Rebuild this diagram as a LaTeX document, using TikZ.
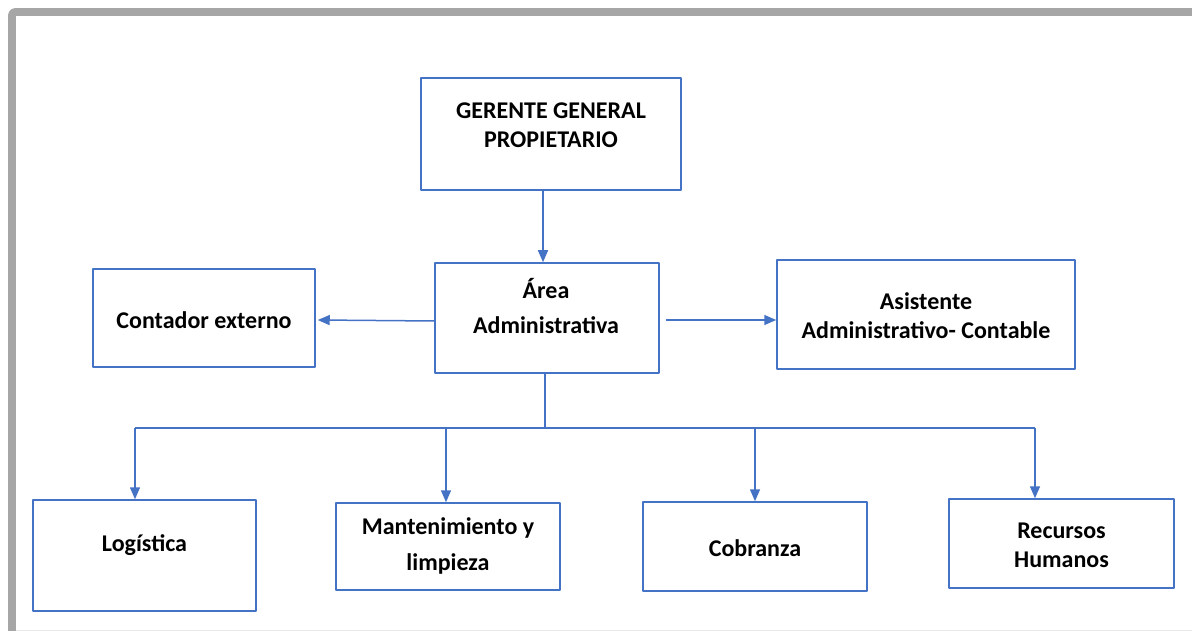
\documentclass[tikz,border=0pt]{standalone}
\usepackage{fontspec}
\setmainfont{Carlito}
\usetikzlibrary{arrows.meta,positioning}
\definecolor{azul}{HTML}{4472C4}
\definecolor{marco}{HTML}{A6A6A6}
\begin{document}
\begin{tikzpicture}[x=1pt, y=-1pt, line join=round, >={Triangle[length=12pt,width=10pt]},
	caja/.style={draw=azul, line width=1.5pt, rectangle, inner sep=0pt},
	rotulo/.style={align=center, font=\bfseries\fontsize{24}{29}\selectfont},
	flecha/.style={->, draw=azul, line width=1.5pt, azul}]
	\useasboundingbox (0,0) rectangle (1192,631);
	% marco
	\draw[marco, line width=7.7pt, rounded corners=3pt] (12,640)--(12,12)--(1200,12);
	\draw[black!9, line width=1pt] (16,630)--(1192,630);
	% cajas
	\node[caja, minimum width=260, minimum height=112] (ger) at (551,134) {};
	\node[caja, minimum width=224, minimum height=110] (area) at (547,318) {};
	\node[caja, minimum width=222, minimum height=98] (cont) at (204,318) {};
	\node[caja, minimum width=298, minimum height=109] (asis) at (926,314.5) {};
	\node[caja, minimum width=223, minimum height=111] (log) at (144.5,555.5) {};
	\node[caja, minimum width=224, minimum height=87] (mant) at (448,546.5) {};
	\node[caja, minimum width=224, minimum height=89] (cob) at (755,546.5) {};
	\node[caja, minimum width=225, minimum height=89] (rec) at (1061.5,543.5) {};
	% textos
	\node[rotulo] (tger) at (551,125) {GERENTE GENERAL\\PROPIETARIO};
	\node[rotulo] (tarea) at (546,306) {Área\\[6pt]Administrativa};
	\node[rotulo] (tcont) at (204,320) {Contador externo};
	\node[rotulo] (tasis) at (926,316) {Asistente\\Administrativo- Contable};
	\node[rotulo] (tlog) at (144.5,545) {Logística};
	\node[rotulo] (tmant) at (448,546) {Mantenimiento y\\[7pt]limpieza};
	\node[rotulo] (tcob) at (755,548) {Cobranza};
	\node[rotulo] (trec) at (1061.5,545) {Recursos\\Humanos};
	% conectores
	\draw[flecha] (ger.south -| 543,0) -- (area.north -| 543,0);
	\draw[flecha] ([yshift=-3pt]area.west) -- ([xshift=2pt,yshift=-2pt]cont.east);
	\draw[flecha] ([xshift=6pt,yshift=-2pt]area.east) -- ([yshift=-2pt]area.east -| asis.west);
	\coordinate (b0) at (545,428);
	\coordinate (b1) at (135,428);
	\coordinate (b2) at (446,428);
	\coordinate (b3) at (755,428);
	\coordinate (b4) at (1035,428);
	\draw[azul, line width=1.5pt] (area.south -| b0) -- (b0);
	\draw[azul, line width=1.5pt] (b1) -- (b4);
	\draw[flecha] (b1) -- (b1 |- log.north);
	\draw[flecha] (b2) -- (b2 |- mant.north);
	\draw[flecha] (b3) -- (b3 |- cob.north);
	\draw[flecha] (b4) -- (b4 |- rec.north);
\end{tikzpicture}
\end{document}
